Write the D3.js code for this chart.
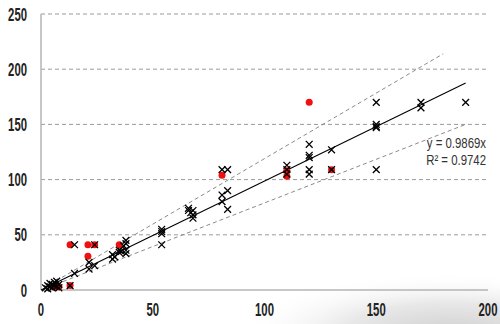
<!DOCTYPE html>
<html><head><meta charset="utf-8">
<script src="https://cdn.jsdelivr.net/npm/d3@7"></script>
<style>html,body{margin:0;padding:0;background:#fff;}svg{display:block;}</style>
</head><body>
<svg id="chart" width="500" height="324"></svg>
<script>
const xTicks = [0, 50, 100, 150, 200];
const yTicks = [0, 50, 100, 150, 200, 250];
const blackPoints = [
  [2,2],[3,1],[4,3],[5,2],[5,5],[6,4],[6,7],[7,3],[7,8],[8,5],[8,2],[4,6],[3,4],
  [13,4],[15,41],[15,15],[21.5,19],[21.5,25],[24,22],[24,41],
  [32,28],[32,32],[33,30],[35,36],[35,34],[36,35],[38,45],[38,42],[38,36],[38,33],[37,40],
  [54,55],[54,53],[54,51],[54,41],
  [66,74],[66,72],[67,70],[68,72],[68,68],[68,65],
  [81,109],[83.5,109],[81,86],[81,80],[83.5,90],[83.5,73],
  [110,113],[110,109],[110,105],
  [120,132],[120,122],[120,120],[120,109],[120,105],
  [130,127],[130,109],
  [150,170],[150,150],[150,148],[150,147],[150,109],
  [170,170],[170,165],[190,170]
];
const redPoints = [
  [13,41],[21,41],[24,41],[21,30.5],[35,41],[81,104],[110,108],[110,103],
  [120,170],[130,109],[13,4],[6,3],[8,3]
];
const slope = 0.9869;
const trendRange = [0, 190];
const upperBand = [[4,5],[180,214]];
const lowerBand = [[4,3],[190,150]];
const eqLines = ["y = 0.9869x", "R\u00b2 = 0.9742"];

const svg = d3.select("#chart");
const defs = svg.append("defs");
const g1 = defs.append("radialGradient").attr("id","swoosh").attr("cx","0.85").attr("cy","1.1").attr("r","0.65");
g1.append("stop").attr("offset","0").attr("stop-color","#d0d0d0");
g1.append("stop").attr("offset","0.5").attr("stop-color","#e8e8e8");
g1.append("stop").attr("offset","1").attr("stop-color","#fff").attr("stop-opacity",0);
svg.append("rect").attr("x",170).attr("y",230).attr("width",330).attr("height",94).attr("fill","url(#swoosh)");

const x = d3.scaleLinear().domain([0,200]).range([41,488]);
const y = d3.scaleLinear().domain([0,250]).range([290,14]);

// gridlines
svg.append("g").selectAll("line").data(yTicks.filter(d=>d>0)).join("line")
  .attr("x1",x(0)).attr("x2",x(200)-2).attr("y1",d=>y(d)).attr("y2",d=>y(d))
  .attr("stroke","#9a9a9a").attr("stroke-width",1).attr("stroke-dasharray","4,3");

// axes lines
svg.append("line").attr("x1",x(0)).attr("x2",x(0)).attr("y1",y(250)).attr("y2",y(0)).attr("stroke","#b5b5b5").attr("stroke-width",1.5);
svg.append("line").attr("x1",x(0)).attr("x2",x(200)).attr("y1",y(0)).attr("y2",y(0)).attr("stroke","#b5b5b5").attr("stroke-width",1.5);

// tick labels (condensed)
const sx = 0.63;
svg.append("g").selectAll("text").data(yTicks).join("text")
  .attr("transform",d=>`translate(27,${y(d)+6.5}) scale(${sx},1)`)
  .attr("text-anchor","end").attr("font-family","Liberation Sans, Arial, sans-serif")
  .attr("font-size",18).attr("font-weight","bold").attr("fill","#222").text(d=>d);
svg.append("g").selectAll("text").data(xTicks).join("text")
  .attr("transform",d=>`translate(${x(d)},316) scale(${sx},1)`)
  .attr("text-anchor","middle").attr("font-family","Liberation Sans, Arial, sans-serif")
  .attr("font-size",18).attr("font-weight","bold").attr("fill","#222").text(d=>d);

// bands
const line = d3.line().x(d=>x(d[0])).y(d=>y(d[1]));
[upperBand, lowerBand].forEach(b=>{
  svg.append("path").attr("d",line(b)).attr("fill","none").attr("stroke","#8a8a8a")
    .attr("stroke-width",1).attr("stroke-dasharray","4,3");
});
// trend line
svg.append("path").attr("d",line(trendRange.map(v=>[v, slope*v]))).attr("fill","none")
  .attr("stroke","#000").attr("stroke-width",1.1);

// red points
svg.append("g").selectAll("circle").data(redPoints).join("circle")
  .attr("cx",d=>x(d[0])).attr("cy",d=>y(d[1])).attr("r",3.5).attr("fill","#f01010");

// black x markers
const s = 3.4;
svg.append("g").selectAll("path").data(blackPoints).join("path")
  .attr("d",d=>{const cx=x(d[0]), cy=y(d[1]);
    return `M${cx-s},${cy-s}L${cx+s},${cy+s}M${cx-s},${cy+s}L${cx+s},${cy-s}`;})
  .attr("stroke","#000").attr("stroke-width",1.3).attr("fill","none");

// equation
svg.append("g").selectAll("text").data(eqLines).join("text")
  .attr("transform",(d,i)=>`translate(486,${148+i*17}) scale(0.76,1)`)
  .attr("text-anchor","end").attr("font-family","Liberation Sans, Arial, sans-serif")
  .attr("font-size",15).attr("fill","#333").text(d=>d);
</script>
</body></html>
